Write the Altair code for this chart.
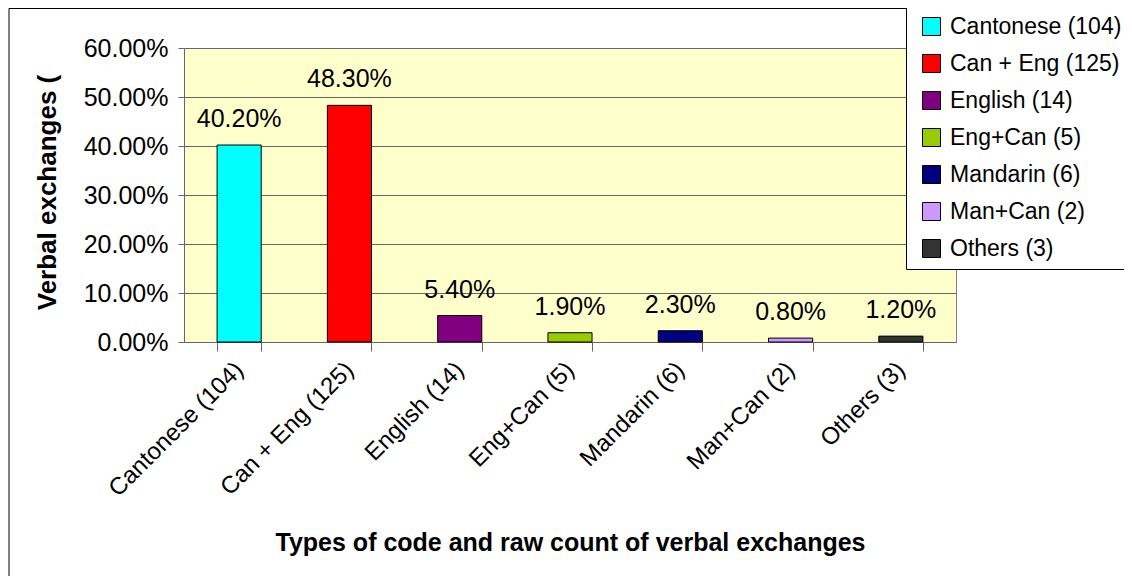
import altair as alt
import pandas as pd

categories = ["Cantonese (104)", "Can + Eng (125)", "English (14)", "Eng+Can (5)",
              "Mandarin (6)", "Man+Can (2)", "Others (3)"]
shares = [0.402, 0.483, 0.054, 0.019, 0.023, 0.008, 0.012]
colors = ["#00FFFF", "#FF0000", "#800080", "#99CC00", "#000080", "#CC99FF", "#333333"]
y_ticks = [0.0, 0.1, 0.2, 0.3, 0.4, 0.5, 0.6]

df = pd.DataFrame({"type": categories, "share": shares})

FONT = "Liberation Sans"
GRID = "#666666"

x_enc = alt.X(
    "type:N", sort=categories,
    scale=alt.Scale(paddingInner=0.6, paddingOuter=0.3),
    axis=alt.Axis(
        title="Types of code and raw count of verbal exchanges",
        labelAngle=-45, labelAlign="right", labelBaseline="middle",
        labelFontSize=24, labelPadding=15, labelColor="black", labelLimit=400,
        tickBand="extent", tickSize=9, tickColor=GRID, domainColor=GRID,
        titleFontSize=25, titleFontWeight="bold", titleColor="black",
        titleX=386, titleY=208, titleAlign="center", titleBaseline="alphabetic",
        grid=False,
    ),
)
y_enc = alt.Y(
    "share:Q",
    scale=alt.Scale(domain=[0, 0.6], nice=False, zero=True),
    axis=alt.Axis(
        title="Verbal exchanges (", values=y_ticks, format=".2%",
        labelFontSize=25, labelPadding=10, labelColor="black",
        tickSize=6, tickColor=GRID, domainColor=GRID,
        grid=True, gridColor=GRID,
        titleFontSize=26, titleFontWeight="bold", titleColor="black",
        titleAngle=-90, titleX=-129, titleY=144,
        titleAlign="center", titleBaseline="alphabetic",
    ),
)

base = alt.Chart(df)

bars = base.mark_bar(stroke="black", strokeWidth=1).encode(
    x=x_enc, y=y_enc,
    color=alt.Color(
        "type:N", sort=categories,
        scale=alt.Scale(domain=categories, range=colors),
        legend=alt.Legend(
            title=None, orient="none", legendX=722, legendY=-41,
            fillColor="white", strokeColor="black", padding=8,
            labelFontSize=23, labelColor="black", labelLimit=400, labelOffset=7,
            symbolType="square", symbolSize=324, symbolStrokeColor="black",
            symbolStrokeWidth=1, rowPadding=13, symbolOffset=6,
        ),
    ),
)

labels = base.mark_text(dy=-18, baseline="alphabetic", fontSize=25, color="black").encode(
    x=alt.X("type:N", sort=categories),
    y="share:Q",
    text=alt.Text("share:Q", format=".2%"),
)

border = alt.Chart(pd.DataFrame({"a": [0]})).mark_rect(
    fill=None, stroke="black", strokeWidth=1, clip=False
).encode(
    x=alt.value(-175), x2=alt.value(1100), y=alt.value(-39.5), y2=alt.value(700)
)

chart = alt.layer(border, bars, labels).properties(
    width=772, height=294,
    autosize=alt.AutoSizeParams(type="none"),
    padding={"left": 176, "top": 40, "right": 168, "bottom": 234},
    background="white",
).configure(font=FONT).configure_view(fill="#FFFFCC", stroke="#808080", strokeWidth=1)

chart.save("out.html", embed_options={"renderer": "svg", "actions": False})
